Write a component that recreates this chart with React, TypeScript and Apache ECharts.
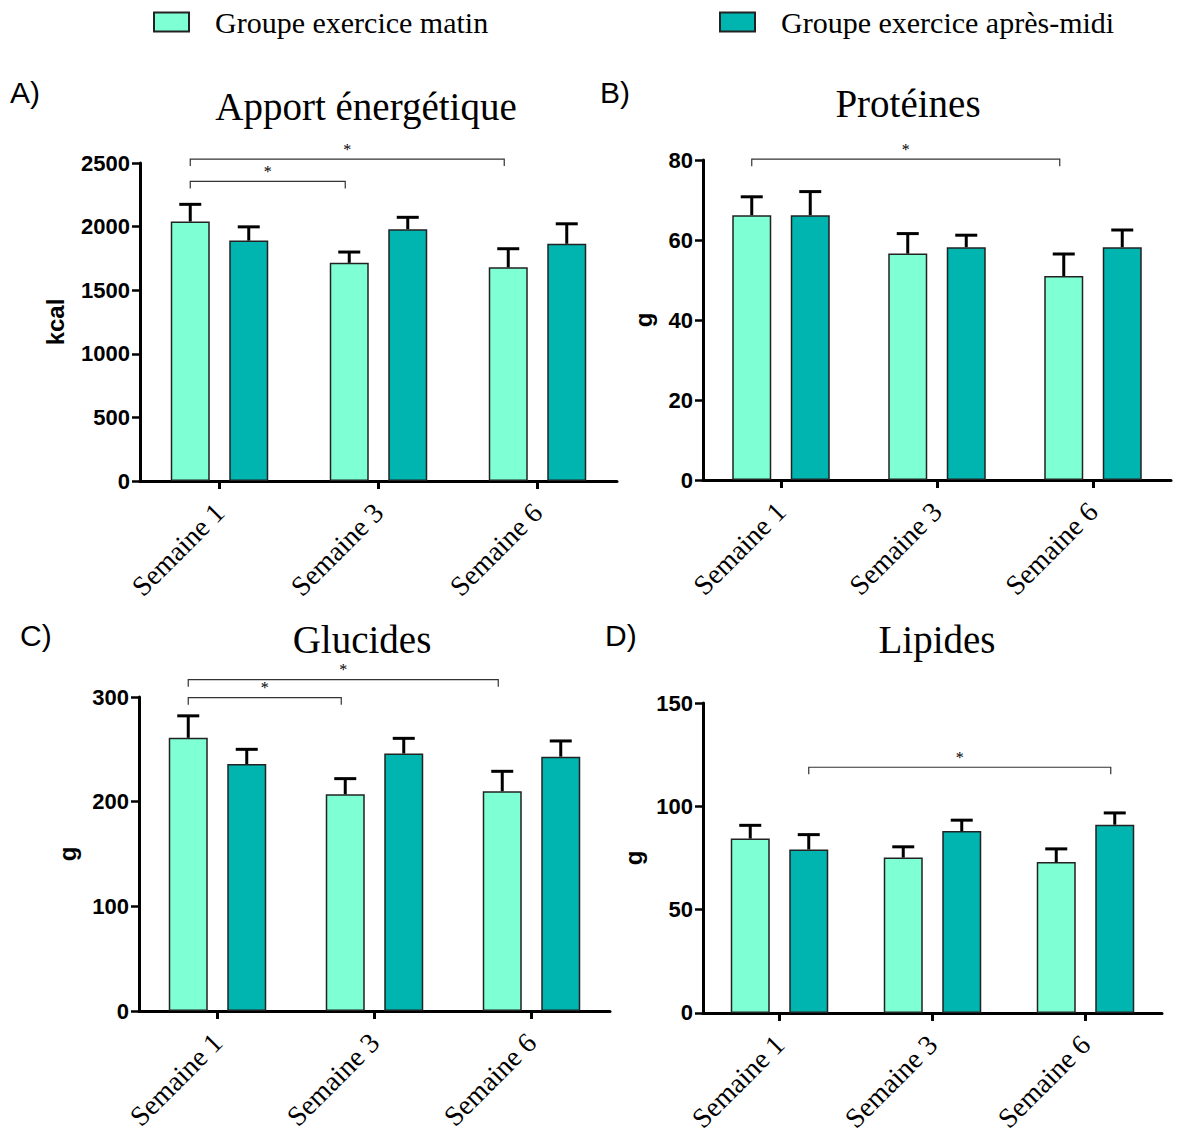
import React, { useEffect, useRef } from "react";
import * as echarts from "echarts";

const categories = ["Semaine 1", "Semaine 3", "Semaine 6"];
const seriesNames = ["Groupe exercice matin", "Groupe exercice après-midi"];

// Apport énergétique (kcal)
const energyMorning = [2040, 1715, 1680];
const energyMorningErr = [2175, 1800, 1826];
const energyAfternoon = [1890, 1980, 1865];
const energyAfternoonErr = [1998, 2073, 2022];
const energyTicks = [0, 2500, 500];
const energyBrackets = [
  [0, 0, 1, 0, 2355],
  [0, 0, 2, 0, 2531],
];

// Protéines (g)
const proteinMorning = [66.2, 56.6, 51.0];
const proteinMorningErr = [70.8, 61.6, 56.5];
const proteinAfternoon = [66.2, 58.2, 58.2];
const proteinAfternoonErr = [72.1, 61.2, 62.5];
const proteinTicks = [0, 80, 20];
const proteinBrackets = [[0, 0, 2, 0, 80.2]];

// Glucides (g)
const carbMorning = [261, 207, 210];
const carbMorningErr = [282, 222, 229];
const carbAfternoon = [236, 246, 243];
const carbAfternoonErr = [250, 260.5, 258];
const carbTicks = [0, 300, 100];
const carbBrackets = [
  [0, 0, 1, 0, 299.4],
  [0, 0, 2, 0, 316.6],
];

// Lipides (g)
const lipidMorning = [84.4, 75.2, 73.0];
const lipidMorningErr = [90.8, 80.4, 79.4];
const lipidAfternoon = [79.1, 88.0, 91.1];
const lipidAfternoonErr = [86.3, 93.3, 96.8];
const lipidTicks = [0, 150, 50];
const lipidBrackets = [[0, 1, 2, 1, 118.9]];

const COLOR_AM = "#7FFFD4";
const COLOR_PM = "#00B4B0";
const BAR_W = 39;
const OFFSET = (BAR_W * 1.5) / 2;

const panels = [
  {
    title: "Apport énergétique", letter: "A)", yName: "kcal",
    morning: energyMorning, morningErr: energyMorningErr,
    afternoon: energyAfternoon, afternoonErr: energyAfternoonErr,
    ticks: energyTicks, brackets: energyBrackets,
    grid: { left: 140, top: 163, width: 477, height: 318 }, nameGap: 73,
    titlePos: [366, 106], letterPos: [10, 92],
  },
  {
    title: "Protéines", letter: "B)", yName: "g",
    morning: proteinMorning, morningErr: proteinMorningErr,
    afternoon: proteinAfternoon, afternoonErr: proteinAfternoonErr,
    ticks: proteinTicks, brackets: proteinBrackets,
    grid: { left: 703, top: 160, width: 468, height: 320 }, nameGap: 48,
    titlePos: [908, 103], letterPos: [600, 92],
  },
  {
    title: "Glucides", letter: "C)", yName: "g",
    morning: carbMorning, morningErr: carbMorningErr,
    afternoon: carbAfternoon, afternoonErr: carbAfternoonErr,
    ticks: carbTicks, brackets: carbBrackets,
    grid: { left: 139, top: 697, width: 471, height: 314 }, nameGap: 60,
    titlePos: [362, 639], letterPos: [20, 635],
  },
  {
    title: "Lipides", letter: "D)", yName: "g",
    morning: lipidMorning, morningErr: lipidMorningErr,
    afternoon: lipidAfternoon, afternoonErr: lipidAfternoonErr,
    ticks: lipidTicks, brackets: lipidBrackets,
    grid: { left: 703, top: 703, width: 459, height: 312 }, nameGap: 58,
    titlePos: [937, 639], letterPos: [605, 635],
  },
];

function errorRenderer(offset: number) {
  return (params: any, api: any) => {
    const cat = api.value(0);
    const base = api.coord([cat, api.value(1)]);
    const top = api.coord([cat, api.value(2)]);
    const x = base[0] + offset;
    return {
      type: "group",
      children: [
        { type: "line", shape: { x1: x, y1: base[1], x2: x, y2: top[1] }, style: { stroke: "#000", lineWidth: 3 } },
        { type: "line", shape: { x1: x - 11, y1: top[1], x2: x + 11, y2: top[1] }, style: { stroke: "#000", lineWidth: 3 } },
      ],
    };
  };
}

function bracketRenderer(params: any, api: any) {
  const c1 = api.value(0);
  const g1 = api.value(1);
  const c2 = api.value(2);
  const g2 = api.value(3);
  const lvl = api.value(4);
  const p1 = api.coord([c1, lvl]);
  const p2 = api.coord([c2, lvl]);
  const x1 = p1[0] + (g1 ? OFFSET : -OFFSET);
  const x2 = p2[0] + (g2 ? OFFSET : -OFFSET) - 4;
  const y = p1[1];
  return {
    type: "group",
    children: [
      {
        type: "polyline",
        shape: { points: [[x1, y + 7], [x1, y], [x2, y], [x2, y + 7]] },
        style: { stroke: "#333", lineWidth: 1.2, fill: "none" },
      },
      {
        type: "text",
        style: {
          text: "*", x: (x1 + x2) / 2, y: y - 2, align: "center", verticalAlign: "bottom",
          font: '16px "Liberation Serif"', fill: "#000",
        },
      },
    ],
  };
}

export default function App() {
  const ref = useRef<HTMLDivElement>(null);
  useEffect(() => {
    if (!ref.current) return;
    const chart = echarts.init(ref.current, null, { renderer: "svg" });
    const grids: any[] = [];
    const xAxes: any[] = [];
    const yAxes: any[] = [];
    const series: any[] = [];
    const graphic: any[] = [];
    panels.forEach((p, i) => {
      grids.push({ ...p.grid, containLabel: false });
      xAxes.push({
        gridIndex: i, type: "category", data: categories,
        axisLine: { show: true, lineStyle: { color: "#000", width: 3 } },
        axisTick: { show: true, alignWithLabel: true, length: 8, lineStyle: { color: "#000", width: 3 } },
        axisLabel: { rotate: 45, fontFamily: "Liberation Serif", fontSize: 28, color: "#000", margin: 27 },
      });
      yAxes.push({
        gridIndex: i, type: "value", min: p.ticks[0], max: p.ticks[1], interval: p.ticks[2],
        name: p.yName, nameLocation: "middle", nameGap: p.nameGap,
        nameTextStyle: { fontFamily: "Liberation Sans", fontWeight: "bold", fontSize: 24, color: "#000" },
        axisLine: { show: true, lineStyle: { color: "#000", width: 3 } },
        axisTick: { show: true, length: 8, lineStyle: { color: "#000", width: 2.5 } },
        axisLabel: {
          fontFamily: "Liberation Sans", fontWeight: "bold", fontSize: 22, color: "#000", margin: 10,
          formatter: (v: number) => String(v),
        },
        splitLine: { show: false },
      });
      series.push({
        name: seriesNames[0], type: "bar", xAxisIndex: i, yAxisIndex: i, data: p.morning,
        barWidth: BAR_W, barGap: "50%",
        itemStyle: { color: COLOR_AM, borderColor: "#222", borderWidth: 1.5 },
      });
      series.push({
        name: seriesNames[1], type: "bar", xAxisIndex: i, yAxisIndex: i, data: p.afternoon,
        barWidth: BAR_W, barGap: "50%",
        itemStyle: { color: COLOR_PM, borderColor: "#222", borderWidth: 1.5 },
      });
      series.push({
        name: "err-am-" + i, type: "custom", xAxisIndex: i, yAxisIndex: i, z: 5, clip: false,
        renderItem: errorRenderer(-OFFSET), encode: { x: 0, y: [1, 2] },
        data: p.morning.map((v, k) => [k, v, p.morningErr[k]]),
      });
      series.push({
        name: "err-pm-" + i, type: "custom", xAxisIndex: i, yAxisIndex: i, z: 5, clip: false,
        renderItem: errorRenderer(OFFSET), encode: { x: 0, y: [1, 2] },
        data: p.afternoon.map((v, k) => [k, v, p.afternoonErr[k]]),
      });
      series.push({
        name: "sig-" + i, type: "custom", xAxisIndex: i, yAxisIndex: i, z: 5, clip: false,
        renderItem: bracketRenderer, encode: { x: 0, y: 4 },
        data: p.brackets,
      });
      graphic.push({
        type: "text", x: p.titlePos[0], y: p.titlePos[1],
        style: { text: p.title, font: '39px "Liberation Serif"', align: "center", verticalAlign: "middle", fill: "#000" },
      });
      graphic.push({
        type: "text", x: p.letterPos[0], y: p.letterPos[1],
        style: { text: p.letter, font: '30px "Liberation Sans"', align: "left", verticalAlign: "middle", fill: "#000" },
      });
    });
    const legendCommon = {
      top: 2, itemWidth: 35, itemHeight: 19, icon: "rect", selectedMode: false,
      textStyle: { fontFamily: "Liberation Serif", fontSize: 30, color: "#000", padding: [0, 0, 0, 21] },
    };
    chart.setOption({
      animation: false,
      backgroundColor: "#fff",
      legend: [
        { ...legendCommon, left: 148, data: [seriesNames[0]] },
        { ...legendCommon, left: 714, data: [seriesNames[1]] },
      ],
      grid: grids,
      xAxis: xAxes,
      yAxis: yAxes,
      series,
      graphic,
    });
    return () => chart.dispose();
  }, []);
  return (
    <div
      ref={ref}
      style={{ position: "fixed", left: 0, top: 0, width: 1185, height: 1135, background: "#fff" }}
    />
  );
}
